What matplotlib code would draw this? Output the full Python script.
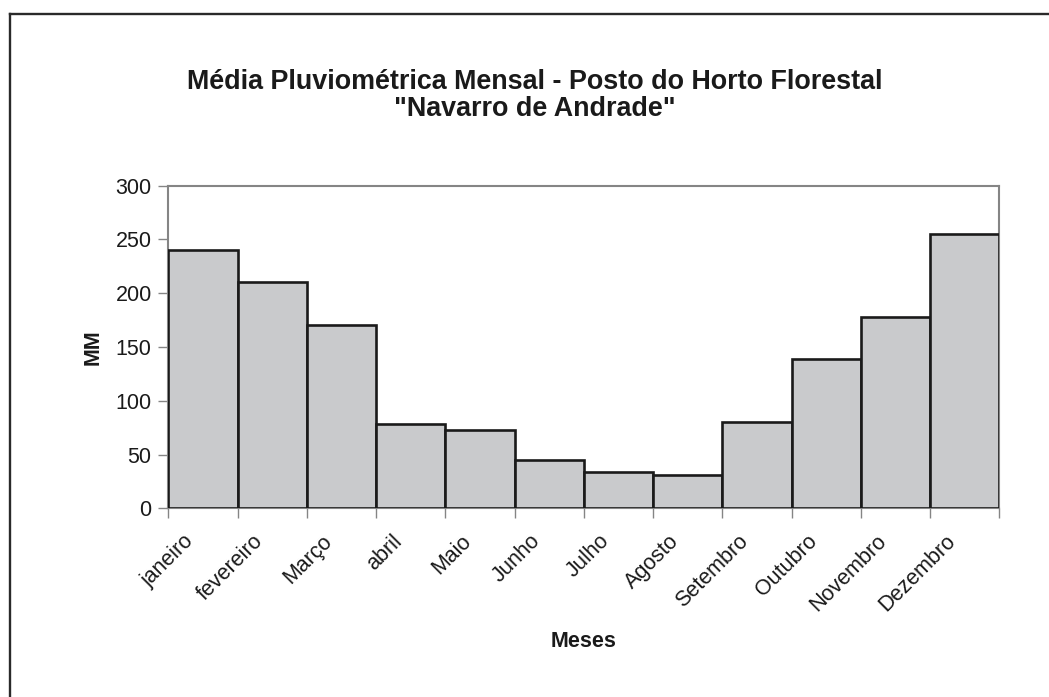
import matplotlib
matplotlib.use('Agg')
import matplotlib.pyplot as plt
from matplotlib.lines import Line2D
import matplotlib.transforms as mtransforms
import numpy as np

# ---- data ----
months = ['janeiro', 'fevereiro', 'Março', 'abril', 'Maio', 'Junho',
          'Julho', 'Agosto', 'Setembro', 'Outubro', 'Novembro', 'Dezembro']
rain_mm = [240, 210, 170, 78, 73, 45, 34, 31, 80, 139, 178, 255]
y_ticks = [0, 50, 100, 150, 200, 250, 300]
title_line1 = 'Média Pluviométrica Mensal - Posto do Horto Florestal'
title_line2 = '"Navarro de Andrade"'
x_label = 'Meses'
y_label = 'MM'

plt.rcParams['font.family'] = ['Liberation Sans', 'DejaVu Sans']

W, H = 1049, 697
fig = plt.figure(figsize=(W / 100, H / 100), dpi=100)
fig.patch.set_facecolor('white')

# axes placement (pixel measurements from reference)
L, R, T, B = 168.3, 999.3, 185.7, 508.3
ax = fig.add_axes([L / W, 1 - B / H, (R - L) / W, (B - T) / H])

x = np.arange(len(months))
ax.bar(x, rain_mm, width=1.0, color='#c9cacc', edgecolor='#1a1a1a',
       linewidth=1.9, zorder=3)
ax.set_xlim(-0.5, len(months) - 0.5)
ax.set_ylim(0, 300)

for s in ax.spines.values():
    s.set_color('#858585')
    s.set_linewidth(1.5)

ax.set_yticks(y_ticks)
ax.tick_params(axis='y', direction='out', length=7, width=1,
               color='#858585', labelsize=15.5, pad=5, labelcolor='#1a1a1a')

ax.set_xticks(x)
ax.set_xticklabels(months, rotation=45, ha='right', va='center',
                   rotation_mode='anchor', fontsize=15.5, color='#1a1a1a')
ax.tick_params(axis='x', which='major', length=0, pad=21.5)
ax.set_xticks(np.arange(-0.5, len(months), 1.0), minor=True)
ax.tick_params(axis='x', which='minor', direction='out', length=7,
               width=1, color='#858585')
shift = mtransforms.ScaledTranslation(-12 / 100, 0, fig.dpi_scale_trans)
for lbl in ax.get_xticklabels():
    lbl.set_transform(lbl.get_transform() + shift)

# titles and axis labels
fig.text(535 / W, 1 - 89.3 / H, title_line1, ha='center', va='baseline',
         fontsize=19.4, fontweight='bold', color='#1a1a1a')
fig.text(535 / W, 1 - 116 / H, title_line2, ha='center', va='baseline',
         fontsize=19.4, fontweight='bold', color='#1a1a1a')
fig.text(584 / W, 1 - 647.3 / H, x_label, ha='center', va='baseline',
         fontsize=15.5, fontweight='bold', color='#1a1a1a')
fig.text(93 / W, 1 - 347 / H, y_label, ha='center', va='center',
         rotation=90, fontsize=15.5, fontweight='bold', color='#1a1a1a')

# outer frame (top and left edges only)
fig.add_artist(Line2D([9.5 / W, 1.0], [1 - 14 / H, 1 - 14 / H],
                      transform=fig.transFigure, color='#2a2a2a', lw=1.7))
fig.add_artist(Line2D([9.5 / W, 9.5 / W], [0.0, 1 - 14 / H],
                      transform=fig.transFigure, color='#2a2a2a', lw=1.7))

fig.savefig('out.png', dpi=100, facecolor='white')
